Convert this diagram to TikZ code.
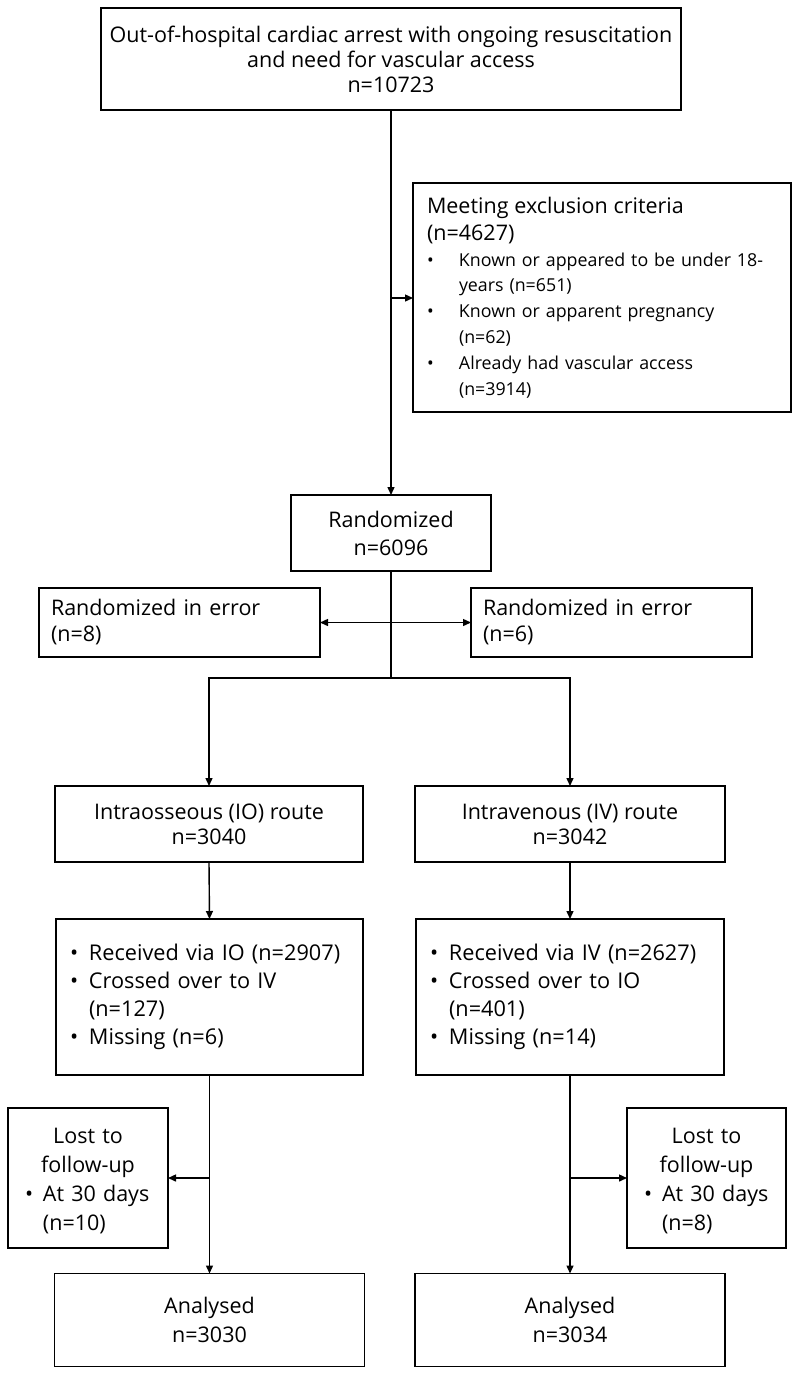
\documentclass[tikz,border=0pt]{standalone}
\usepackage{fontspec}
\setmainfont{Open Sans}
\usetikzlibrary{arrows.meta, positioning}
\newcommand{\bitem}[1]{\makebox[#1][l]{\textbullet}}

\begin{document}
\begin{tikzpicture}[x=1pt, y=-1pt,
  box/.style={draw, line width=1.8pt, inner sep=0pt, outer sep=0pt,
              font=\fontsize{21.5}{25}\selectfont},
  cbox/.style={box, align=center},
  lbox/.style={box, align=left},
  line/.style={line width=1.4pt},
  arrow/.style={line, -{Triangle[length=8pt, width=7pt]}},
  dblarrow/.style={line, {Triangle[length=8pt, width=7pt]}-{Triangle[length=8pt, width=7pt]}}
]
\useasboundingbox (0,0) rectangle (800,1376);

% enrolment
\node[cbox, minimum width=580pt, minimum height=102pt] (ohca) at (391,59)
  {Out-of-hospital cardiac arrest with ongoing resuscitation\\
   and need for vascular access\\ n=10723};
\node[lbox, minimum height=229pt, text width=350pt, inner xsep=14pt,
      font=\fontsize{17.8}{25.8}\selectfont] (excl) at (602,297.5)
  {{\fontsize{21.5}{25}\selectfont Meeting exclusion criteria}\\[1pt]
   {\fontsize{21.5}{25}\selectfont (n=4627)}\\[0pt]
   \bitem{32pt}Known or appeared to be under 18-\\
   \hspace*{32pt}years (n=651)\\
   \bitem{32pt}Known or apparent pregnancy\\
   \hspace*{32pt}(n=62)\\
   \bitem{32pt}Already had vascular access\\
   \hspace*{32pt}(n=3914)};
\node[cbox, minimum width=200pt, minimum height=76pt,
      font=\fontsize{21.5}{28}\selectfont] (rand) at (391,533)
  {Randomized\\ n=6096};
\node[lbox, minimum height=69pt, text width=257pt, inner xsep=12pt,
      font=\fontsize{21.5}{26}\selectfont] (errio) at (179.5,622.5)
  {Randomized in error\\ (n=8)};
\node[lbox, minimum height=69pt, text width=257pt, inner xsep=12pt,
      font=\fontsize{21.5}{26}\selectfont] (erriv) at (611.5,622.5)
  {Randomized in error\\ (n=6)};

% allocation
\node[cbox, minimum width=308pt, minimum height=76pt] (io) at (209,824)
  {Intraosseous (IO) route\\ n=3040};
\node[cbox, minimum width=310pt, minimum height=76pt] (iv) at (570,824)
  {Intravenous (IV) route\\ n=3042};
\node[lbox, minimum height=156pt, text width=279pt, inner xsep=14pt,
      font=\fontsize{21.7}{28}\selectfont] (iorec) at (209.5,997)
  {\bitem{19pt}Received via IO (n=2907)\\
   \bitem{19pt}Crossed over to IV\\
   \hspace*{19pt}(n=127)\\
   \bitem{19pt}Missing (n=6)};
\node[lbox, minimum height=156pt, text width=280pt, inner xsep=14pt,
      font=\fontsize{21.7}{28}\selectfont] (ivrec) at (570,997)
  {\bitem{19pt}Received via IV (n=2627)\\
   \bitem{19pt}Crossed over to IO\\
   \hspace*{19pt}(n=401)\\
   \bitem{19pt}Missing (n=14)};

% follow-up and analysis
\node[lbox, minimum height=140pt, text width=146pt, inner xsep=7pt,
      font=\fontsize{21.5}{29}\selectfont] (ioloss) at (88,1178)
  {\makebox[146pt][c]{\rule{0pt}{21pt}Lost to}\\ \makebox[146pt][c]{follow-up}\\
   \hspace*{10pt}\bitem{18pt}At 30 days\\ \hspace*{28pt}(n=10)};
\node[lbox, minimum height=140pt, text width=145pt, inner xsep=7pt,
      font=\fontsize{21.5}{29}\selectfont] (ivloss) at (706.5,1178)
  {\makebox[145pt][c]{\rule{0pt}{21pt}Lost to}\\ \makebox[145pt][c]{follow-up}\\
   \hspace*{10pt}\bitem{18pt}At 30 days\\ \hspace*{28pt}(n=8)};
\node[cbox, minimum width=310pt, minimum height=93pt,
      font=\fontsize{21.5}{29}\selectfont] (ioana) at (209.5,1320)
  {Analysed\\ n=3030};
\node[cbox, minimum width=310pt, minimum height=93pt,
      font=\fontsize{21.5}{29}\selectfont] (ivana) at (570,1320)
  {Analysed\\ n=3034};

% connectors
\coordinate (exjoin) at (391,298);
\coordinate (split) at (391,678);
\draw[arrow] (ohca.south) -- (rand.north);
\draw[arrow] (exjoin) -- (exjoin -| excl.west);
\draw[dblarrow] (errio.east) -- (erriv.west);
\draw[line] (rand.south) -- (split);
\draw[arrow] (split) -| (io.north);
\draw[arrow] (split) -| (iv.north);
\draw[arrow] (io.south) -- (iorec.north);
\draw[arrow] (iv.south) -- (ivrec.north);
\draw[arrow] (iorec.south) -- (ioana.north);
\draw[arrow] (ivrec.south) -- (ivana.north);
\draw[arrow] (iorec.south |- ioloss.east) -- (ioloss.east);
\draw[arrow] (ivrec.south |- ivloss.west) -- (ivloss.west);

\end{tikzpicture}
\end{document}
